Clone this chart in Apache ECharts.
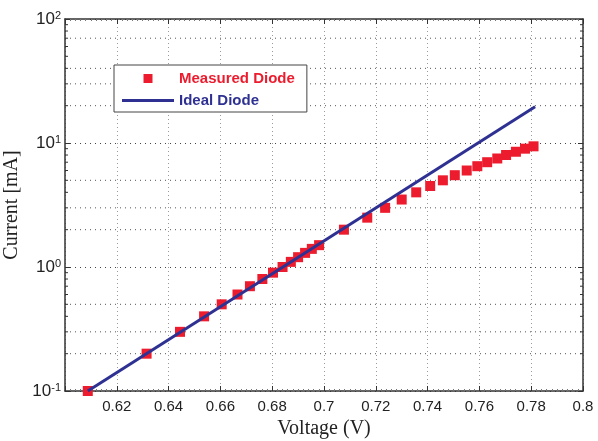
<!DOCTYPE html>
<html>
<head>
<meta charset="utf-8">
<script src="https://cdn.jsdelivr.net/npm/echarts@6/dist/echarts.min.js"></script>
<style>
  html, body { margin: 0; padding: 0; background: #ffffff; }
  #chart { width: 598px; height: 441px; }
</style>
</head>
<body>
<div id="chart"></div>
<script>
// Measured diode: forward voltage (V) and current (mA)
const measuredVoltage = [0.6088, 0.6315, 0.6444, 0.6537, 0.6605, 0.6666, 0.6714, 0.6762, 0.6803, 0.6840,
  0.6872, 0.6900, 0.6927, 0.6953, 0.6981, 0.7077, 0.7167, 0.7236, 0.7300, 0.7356,
  0.7410, 0.7459, 0.7505, 0.7551, 0.7592, 0.7630, 0.7669, 0.7703, 0.7741, 0.7776, 0.7809];
const measuredCurrent = [0.1, 0.2, 0.3, 0.4, 0.5, 0.6, 0.7, 0.8, 0.9, 1.0,
  1.1, 1.2, 1.3, 1.4, 1.5, 2.0, 2.5, 3.0, 3.5, 4.0,
  4.5, 5.0, 5.5, 6.0, 6.5, 7.0, 7.5, 8.0, 8.5, 9.0, 9.4];

// Ideal (exponential) diode: straight on the log axis between its end points
const idealVoltage = [0.6088, 0.7815];
const idealCurrent = [0.1, 19.6];

// Axis ranges
const voltageMin = 0.6, voltageMax = 0.8, voltageStep = 0.02;
const currentMin = 0.1, currentMax = 100;

// Dotted minor grid lines and the minor ticks of the log axis
const minorGridCurrents = [0.2, 0.3, 0.5, 2, 3, 5, 20, 30, 40, 70];
const minorTickCurrents = [0.2, 0.3, 0.4, 0.5, 0.6, 0.7, 0.8, 0.9,
  2, 3, 4, 5, 6, 7, 8, 9, 20, 30, 40, 50, 60, 70, 80, 90];

const axisColor = '#333333';
const sans = '"Liberation Sans", Arial, Helvetica, sans-serif';
const serif = '"Liberation Serif", "Times New Roman", serif';

const chart = echarts.init(document.getElementById('chart'), null, { renderer: 'canvas' });

function voltageLabel(v) {
  return String(+v.toFixed(2));
}
function decadeLabel(v) {
  return '{b|10}{e|' + Math.round(Math.log10(v)) + '}';
}

const xCommon = {
  type: 'value', min: voltageMin, max: voltageMax, interval: voltageStep,
  axisLine: { show: true, onZero: false, lineStyle: { color: axisColor, width: 1.5 } },
  axisTick: { show: true, inside: true, length: 5, lineStyle: { color: axisColor } },
  minorTick: { show: true, splitNumber: 10, length: 2, lineStyle: { color: '#777' } }
};
const yCommon = {
  type: 'log', logBase: 10, min: currentMin, max: currentMax,
  axisLine: { show: true, onZero: false, lineStyle: { color: axisColor, width: 1.5 } },
  axisTick: { show: true, inside: true, length: 5, lineStyle: { color: axisColor } }
};

const option = {
  backgroundColor: '#ffffff',
  animation: false,
  grid: { left: 65, right: 15, top: 19, bottom: 50, containLabel: false, outerBoundsMode: 'none' },
  legend: {
    orient: 'vertical', left: 114, top: 65,
    padding: [6, 12, 4, 8],
    itemWidth: 52, itemHeight: 9, itemGap: 7,
    symbolKeepAspect: true,
    backgroundColor: '#ffffff', borderColor: '#444', borderWidth: 1, borderRadius: 0,
    textStyle: { fontFamily: sans, fontWeight: 'bold', fontSize: 15 },
    data: [
      { name: 'Measured Diode', icon: 'path://M0,0h10v10h-10z', textStyle: { color: '#ec1c2e' } },
      { name: 'Ideal Diode', icon: 'path://M0,0h52v3h-52z', textStyle: { color: '#2e3192' } }
    ]
  },
  xAxis: [
    Object.assign({}, xCommon, {
      position: 'bottom',
      name: 'Voltage (V)', nameLocation: 'middle', nameGap: 27,
      nameTextStyle: { fontFamily: serif, fontSize: 20, color: '#222' },
      axisLabel: { show: true, showMinLabel: false, margin: 8, formatter: voltageLabel,
        fontFamily: sans, fontSize: 15, color: '#222' },
      splitLine: { show: true, lineStyle: { color: '#9a9a9a', width: 1, type: [1, 3] } }
    }),
    Object.assign({}, xCommon, {
      position: 'top',
      axisLabel: { show: false },
      splitLine: { show: false }
    })
  ],
  yAxis: [
    Object.assign({}, yCommon, {
      position: 'left',
      name: 'Current [mA]', nameLocation: 'middle', nameGap: 38,
      nameTextStyle: { fontFamily: serif, fontSize: 20, color: '#222' },
      axisLabel: {
        show: true, margin: 4, formatter: decadeLabel,
        rich: {
          b: { fontFamily: sans, fontSize: 17, color: '#222' },
          e: { fontFamily: sans, fontSize: 11, color: '#222', verticalAlign: 'top' }
        }
      },
      splitLine: { show: true, lineStyle: { color: '#444', width: 1, type: [1, 4] } }
    }),
    Object.assign({}, yCommon, {
      position: 'right',
      axisLabel: { show: false },
      splitLine: { show: false }
    })
  ],
  series: [
    {
      // dotted minor grid of the log axis
      type: 'custom', silent: true, z: 1,
      data: minorGridCurrents.map(function (c) { return [voltageMin, c]; }),
      renderItem: function (params, api) {
        const c = api.value(1);
        const a = api.coord([voltageMin, c]);
        const b = api.coord([voltageMax, c]);
        return { type: 'line', shape: { x1: a[0], y1: a[1], x2: b[0], y2: b[1] },
          style: { stroke: '#555', lineWidth: 1, lineDash: [1, 4] } };
      }
    },
    {
      // minor ticks on the left and right log axes
      type: 'custom', silent: true, z: 4, clip: false,
      data: minorTickCurrents.map(function (c) { return [voltageMin, c]; }),
      renderItem: function (params, api) {
        const c = api.value(1);
        const a = api.coord([voltageMin, c]);
        const b = api.coord([voltageMax, c]);
        return { type: 'group', children: [
          { type: 'line', shape: { x1: a[0], y1: a[1], x2: a[0] + 3, y2: a[1] }, style: { stroke: axisColor, lineWidth: 1 } },
          { type: 'line', shape: { x1: b[0], y1: b[1], x2: b[0] - 3, y2: b[1] }, style: { stroke: axisColor, lineWidth: 1 } }
        ] };
      }
    },
    {
      name: 'Measured Diode', type: 'scatter', z: 2,
      symbol: 'rect', symbolSize: 10,
      itemStyle: { color: '#ec1c2e', opacity: 1 },
      data: measuredVoltage.map(function (v, i) { return [v, measuredCurrent[i]]; })
    },
    {
      name: 'Ideal Diode', type: 'line', z: 3,
      symbol: 'none', showSymbol: false,
      lineStyle: { color: '#2e3192', width: 3 },
      itemStyle: { color: '#2e3192' },
      data: idealVoltage.map(function (v, i) { return [v, idealCurrent[i]]; })
    }
  ]
};

chart.setOption(option);
</script>
</body>
</html>
